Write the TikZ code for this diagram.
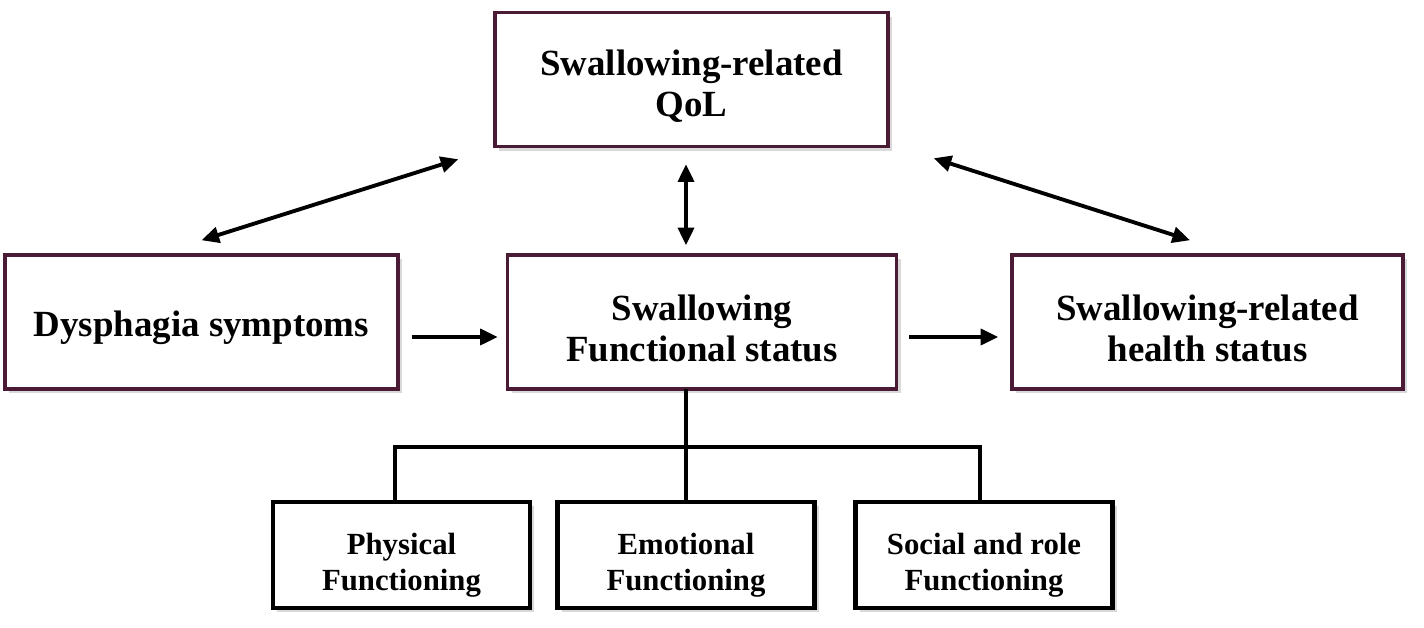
\documentclass[tikz,border=0pt]{standalone}
\usepackage{fontspec}
\setmainfont{Liberation Serif}
\usetikzlibrary{arrows.meta,shadows}

\definecolor{boxrim}{HTML}{4B1A35}
% invisible rule that drops the text block a little inside its box
\newcommand{\topgap}[1]{\rule{0pt}{#1}}

\tikzset{
  bigbox/.style={draw=boxrim,line width=2pt,fill=white,align=center,
    minimum width=7.86cm,minimum height=2.68cm,inner sep=2pt,
    font=\fontsize{21}{23.5}\selectfont\bfseries,
    drop shadow={opacity=0.3,shadow xshift=2.5pt,shadow yshift=-2.5pt}},
  smallbox/.style={draw=black,line width=2.4pt,fill=white,align=center,
    minimum width=5.14cm,minimum height=2.12cm,inner sep=2pt,
    font=\fontsize{17.5}{20.5}\selectfont\bfseries,
    drop shadow={opacity=0.3,shadow xshift=2.5pt,shadow yshift=-2.5pt}},
  link/.style={line width=2.2pt,-{Triangle[length=10pt,width=9pt]}},
  bothway/.style={line width=2.2pt,{Triangle[length=10pt,width=9pt]}-{Triangle[length=10pt,width=9pt]}},
  tree/.style={line width=2.4pt}
}

\begin{document}
\begin{tikzpicture}[x=0.02cm,y=-0.02cm]
        \useasboundingbox (0,0) rectangle (1424,628);

        % Boxes
        \node[bigbox] (qol) at (691.5,79.5) {\topgap{22pt}Swallowing-related\\QoL};
        \node[bigbox] (symptoms) at (201.5,322) {\topgap{21.5pt}Dysphagia symptoms};
        \node[bigbox,minimum width=7.78cm] (funcstat) at (702,322) {\topgap{21.5pt}Swallowing\\Functional status};
        \node[bigbox,minimum width=7.82cm] (health) at (1207.5,322) {\topgap{21.5pt}Swallowing-related\\health status};

        \node[smallbox] (physical) at (401.5,555) {\topgap{24pt}Physical\\Functioning};
        \node[smallbox] (emotional) at (686,555) {\topgap{24pt}Emotional\\Functioning};
        \node[smallbox] (social) at (984,555) {\topgap{24pt}Social and role\\Functioning};

        % Tree points
        \coordinate (stem) at (686,389);
        \coordinate (bus) at (686,447);

        % Arrows
        \draw[link,shorten <=0.24cm,shorten >=0.16cm] ([yshift=-0.3cm]symptoms.east) -- ([yshift=-0.3cm]funcstat.west);
        \draw[link,shorten <=0.22cm,shorten >=0.24cm] ([yshift=-0.3cm]funcstat.east) -- ([yshift=-0.3cm]health.west);
        \draw[bothway,shorten <=0.32cm,shorten >=0.16cm] (qol.south -| stem) -- (funcstat.north -| stem);
        \draw[bothway] ([xshift=-0.7cm,yshift=-0.22cm]qol.south west) -- ([yshift=0.26cm]symptoms.north);
        \draw[bothway] ([xshift=0.88cm,yshift=-0.2cm]qol.south east) -- ([xshift=-0.35cm,yshift=0.26cm]health.north);

        % Tree
        \draw[tree] (stem) -- (emotional.north);
        \draw[tree] ([xshift=-0.13cm]physical.north) |- (bus) -| ([xshift=-0.08cm]social.north);
      \end{tikzpicture}
\end{document}
